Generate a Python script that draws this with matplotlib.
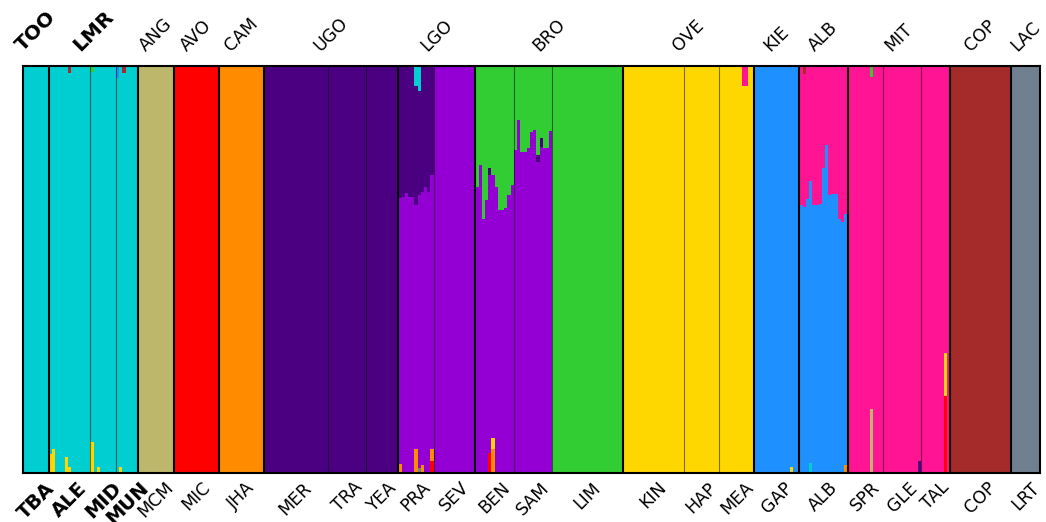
import matplotlib
matplotlib.use("Agg")
import matplotlib.pyplot as plt
import numpy as np

# cluster colours, in the order they are stacked from the bottom
clusters = ["red", "darkorange", "gold", "slategray", "darkkhaki", "darkviolet",
            "indigo", "darkturquoise", "dodgerblue", "deeppink", "limegreen", "brown"]

group_names = ["TOO", "LMR", "ANG", "AVO", "CAM", "UGO", "LGO", "BRO",
               "OVE", "KIE", "ALB", "MIT", "COP", "LAC"]
group_npops = [1, 3, 1, 1, 1, 3, 2, 3, 3, 1, 1, 3, 1, 1]

pop_names = ["TBA", "ALE", "MID", "MUN", "MCM", "MIC", "JHA", "MER", "TRA", "YEA",
             "PRA", "SEV", "BEN", "SAM", "LIM", "KIN", "HAP", "MEA", "GAP", "ALB",
             "SPR", "GLE", "TAL", "COP", "LRT"]
pop_sizes = [8, 13, 8, 7, 11, 14, 14, 20, 12, 10,
             11, 13, 12, 12, 22, 19, 11, 11, 14, 15,
             11, 12, 9, 19, 9]
pop_main = ["darkturquoise", "darkturquoise", "darkturquoise", "darkturquoise",
            "darkkhaki", "red", "darkorange", "indigo", "indigo", "indigo",
            "darkviolet", "darkviolet", "darkviolet", "darkviolet", "limegreen",
            "gold", "gold", "gold", "dodgerblue", "deeppink",
            "deeppink", "deeppink", "deeppink", "brown", "slategray"]

bold_groups = ["TOO", "LMR"]
bold_pops = ["TBA", "ALE", "MID", "MUN"]

# admixed populations: second cluster share for every individual
pra_indigo = [0.324, 0.322, 0.312, 0.322, 0.322, 0.292, 0.256, 0.31, 0.297, 0.31, 0.268]
ben_green = [0.297, 0.243, 0.376, 0.329, 0.251, 0.268, 0.297, 0.354, 0.354, 0.349, 0.317, 0.292]
sam_green = [0.206, 0.133, 0.211, 0.211, 0.201, 0.162, 0.157, 0.219, 0.177, 0.201, 0.201, 0.160]
alb_blue = [0.658, 0.654, 0.673, 0.693, 0.658, 0.658, 0.661, 0.749, 0.806, 0.683,
            0.686, 0.686, 0.624, 0.617, 0.617]

# small memberships: (population, individual, cluster, share)
minor = [
    ("ALE", 0, "gold", 0.047), ("ALE", 1, "gold", 0.06), ("ALE", 5, "gold", 0.04),
    ("ALE", 6, "gold", 0.015), ("ALE", 6, "brown", 0.017),
    ("MID", 0, "gold", 0.076), ("MID", 0, "limegreen", 0.015), ("MID", 2, "gold", 0.015),
    ("MUN", 0, "dodgerblue", 0.03), ("MUN", 1, "gold", 0.015), ("MUN", 2, "brown", 0.017),
    ("PRA", 0, "darkorange", 0.022), ("PRA", 5, "darkorange", 0.06),
    ("PRA", 5, "darkturquoise", 0.05), ("PRA", 6, "darkturquoise", 0.061),
    ("PRA", 6, "slategray", 0.012), ("PRA", 7, "darkorange", 0.02),
    ("PRA", 10, "red", 0.03), ("PRA", 10, "darkorange", 0.03),
    ("BEN", 4, "red", 0.05), ("BEN", 4, "indigo", 0.017),
    ("BEN", 5, "darkorange", 0.06), ("BEN", 5, "gold", 0.025),
    ("SAM", 7, "indigo", 0.017), ("SAM", 8, "indigo", 0.022),
    ("MEA", 7, "deeppink", 0.049), ("MEA", 8, "deeppink", 0.049),
    ("GAP", 11, "gold", 0.015),
    ("ALB", 1, "brown", 0.02), ("ALB", 3, "darkturquoise", 0.025), ("ALB", 14, "darkorange", 0.02),
    ("SPR", 7, "darkkhaki", 0.157), ("SPR", 7, "limegreen", 0.027),
    ("GLE", 11, "indigo", 0.03),
    ("TAL", 7, "red", 0.19), ("TAL", 7, "gold", 0.105),
]

starts = np.concatenate([[0], np.cumsum(pop_sizes)])
n_ind = starts[-1]
pop_start = dict(zip(pop_names, starts[:-1]))
pop_len = dict(zip(pop_names, pop_sizes))
k_of = {c: i for i, c in enumerate(clusters)}

Q = np.zeros((n_ind, len(clusters)))


def set_share(pop, values, cluster):
    s = pop_start[pop]
    for i, v in enumerate(values):
        Q[s + i, k_of[cluster]] = v


set_share("PRA", pra_indigo, "indigo")
set_share("BEN", ben_green, "limegreen")
set_share("SAM", sam_green, "limegreen")
set_share("ALB", alb_blue, "dodgerblue")
for pop, i, c, v in minor:
    Q[pop_start[pop] + i, k_of[c]] = v

# the main cluster takes what is left
for name, main in zip(pop_names, pop_main):
    s = pop_start[name]
    k = k_of[main]
    for j in range(s, s + pop_len[name]):
        Q[j, k] = 0
        Q[j, k] = 1 - Q[j].sum()

fig = plt.figure(figsize=(10.46, 5.22), dpi=100)
ax = fig.add_axes([23 / 1046, 49 / 522, 1017 / 1046, 407 / 522])

x = np.arange(n_ind)
bottom = np.zeros(n_ind)
for k, col in enumerate(clusters):
    ax.bar(x, Q[:, k], bottom=bottom, width=1.0, align="edge", color=col,
           linewidth=0, antialiased=False)
    bottom += Q[:, k]

# population and group separators
group_bounds = np.cumsum(group_npops)
for i in range(1, len(pop_names)):
    if i in group_bounds:
        ax.axvline(starts[i], color="black", lw=1.5)
    else:
        ax.axvline(starts[i], color="black", lw=0.8, alpha=0.5)

ax.set_xlim(0, n_ind)
ax.set_ylim(0, 1)
ax.set_yticks([])
for sp in ax.spines.values():
    sp.set_linewidth(1.5)

pop_centers = (starts[:-1] + starts[1:]) / 2
ax.set_xticks(pop_centers)
ax.set_xticklabels(pop_names, rotation=45, fontsize=12.5)
for lab in ax.get_xticklabels():
    if lab.get_text() in bold_pops:
        lab.set_fontweight("bold")
        lab.set_fontsize(14)
ax.tick_params(axis="x", length=0, pad=4)

gstarts = starts[np.concatenate([[0], group_bounds])]
for g, name in enumerate(group_names):
    cx = (gstarts[g] + gstarts[g + 1]) / 2
    bold = name in bold_groups
    ax.annotate(name, xy=(cx, 1), xycoords=("data", "axes fraction"),
                xytext=(0, 8), textcoords="offset points", rotation=45,
                ha="center", va="bottom", fontsize=14.5 if bold else 12.5,
                fontweight="bold" if bold else "normal")

fig.savefig("out.png", dpi=100)
